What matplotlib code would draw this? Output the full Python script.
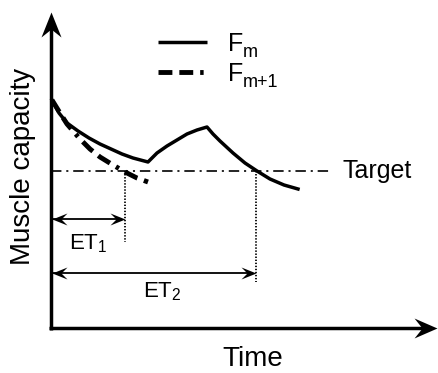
import matplotlib
matplotlib.use("Agg")
import matplotlib.pyplot as plt
from matplotlib.path import Path
import numpy as np

plt.rcParams['font.family'] = ['Liberation Sans', 'DejaVu Sans']
plt.rcParams['mathtext.fontset'] = 'custom'
plt.rcParams['mathtext.rm'] = 'Liberation Sans'
plt.rcParams['mathtext.it'] = 'Liberation Sans'
plt.rcParams['lines.scale_dashes'] = False

# ---- data (arbitrary schematic units: time, muscle capacity) ----
fm_time = [1, 8, 16, 27, 38, 49, 60, 71, 82, 97,
           106, 116, 126, 136, 146, 156,
           162, 169, 182, 194, 206, 219, 233, 247]
fm_cap = [228, 215, 205, 197, 190, 184, 179, 174, 170, 166,
          175, 182, 188, 194, 198, 201,
          194, 187, 175, 165, 157, 149, 143, 139]
fm1_time = [1, 9, 16, 29, 39, 49, 62, 74, 86, 97]
fm1_cap = [228, 215, 204, 189, 179, 171, 163, 156, 150, 146]
target_cap = 157
target_end = 279
et_times = [74, 205]
et_labels = [r'$\mathregular{ET_1}$', r'$\mathregular{ET_2}$']
legend_main = ['F', 'F']
legend_sub = ['m', 'm+1']

fig = plt.figure(figsize=(4.39, 3.73), dpi=100)
ax = fig.add_axes([0, 0, 1, 1])
ax.set_xlim(-51, 388)
ax.set_ylim(-45, 328)
ax.axis('off')

k = 'black'

def stealth(length, half, notch, angle):
    v = np.array([[0, 0], [half, -length], [0, -notch], [-half, -length], [0, 0]], float)
    a = np.deg2rad(angle)
    R = np.array([[np.cos(a), -np.sin(a)], [np.sin(a), np.cos(a)]])
    v = v @ R.T
    codes = [Path.MOVETO, Path.LINETO, Path.LINETO, Path.LINETO, Path.CLOSEPOLY]
    return Path(v, codes)

# axes with arrows
ax.plot([0, 0], [-2, 300], color=k, lw=2.5, solid_capstyle='butt')
ax.plot([-1.5, 372], [0, 0], color=k, lw=2.5, solid_capstyle='butt')
ax.plot([0], [316], marker=stealth(25, 10, 17, 0), ms=36, color=k, mew=0)
ax.plot([386], [0], marker=stealth(23, 10, 15, -90), ms=33, color=k, mew=0)

# curves
ax.plot(fm_time, fm_cap, color=k, lw=2.5, solid_joinstyle='round')
ax.plot(fm1_time, fm1_cap, color=k, lw=3.5,
        dashes=(10, 5, 10, 5, 2.5, 5), dash_capstyle='butt')

# target line
ax.plot([0, target_end], [target_cap, target_cap], color=k, lw=1.2,
        dashes=(7.5, 3.5, 1.5, 3.5))
ax.text(292, target_cap, 'Target', fontsize=18, va='center', ha='left')

# endurance times
et_bottoms = [86, 46]
et_arrow_y = [109, 55]
et_label_pos = [(37, 84), (111, 36)]
for t, b, ay, lab, (lx, ly) in zip(et_times, et_bottoms, et_arrow_y, et_labels, et_label_pos):
    ax.plot([t, t], [target_cap, b], color=k, lw=1.3, dashes=(1, 1.2))
    ax.plot([1, t - 4], [ay, ay], color=k, lw=1.3)
    ax.plot([t], [ay], marker=stealth(15, 6, 9, -90), ms=21.6, color=k, mew=0)
    ax.plot([1], [ay], marker=stealth(15, 6, 9, 90), ms=21.6, color=k, mew=0)
    ax.text(lx, ly, lab, fontsize=16, ha='center', va='center')

# legend
ax.plot([107, 156], [286, 286], color=k, lw=2.5, solid_capstyle='butt')
ax.plot([107, 155], [256, 256], color=k, lw=3.5,
        dashes=(10, 5, 10, 5, 2.5, 5), dash_capstyle='butt')
for (yb, main, sub) in zip([277, 247], legend_main, legend_sub):
    ax.text(177, yb, main, fontsize=18, ha='left', va='baseline')
    ax.text(192, yb - 6, sub, fontsize=13, ha='left', va='baseline')

# axis labels
ax.text(-28, 162, 'Muscle capacity', fontsize=20, rotation=90, ha='center', va='center')
ax.text(202, -31, 'Time', fontsize=20, ha='center', va='center')

fig.savefig('out.png', dpi=100)
